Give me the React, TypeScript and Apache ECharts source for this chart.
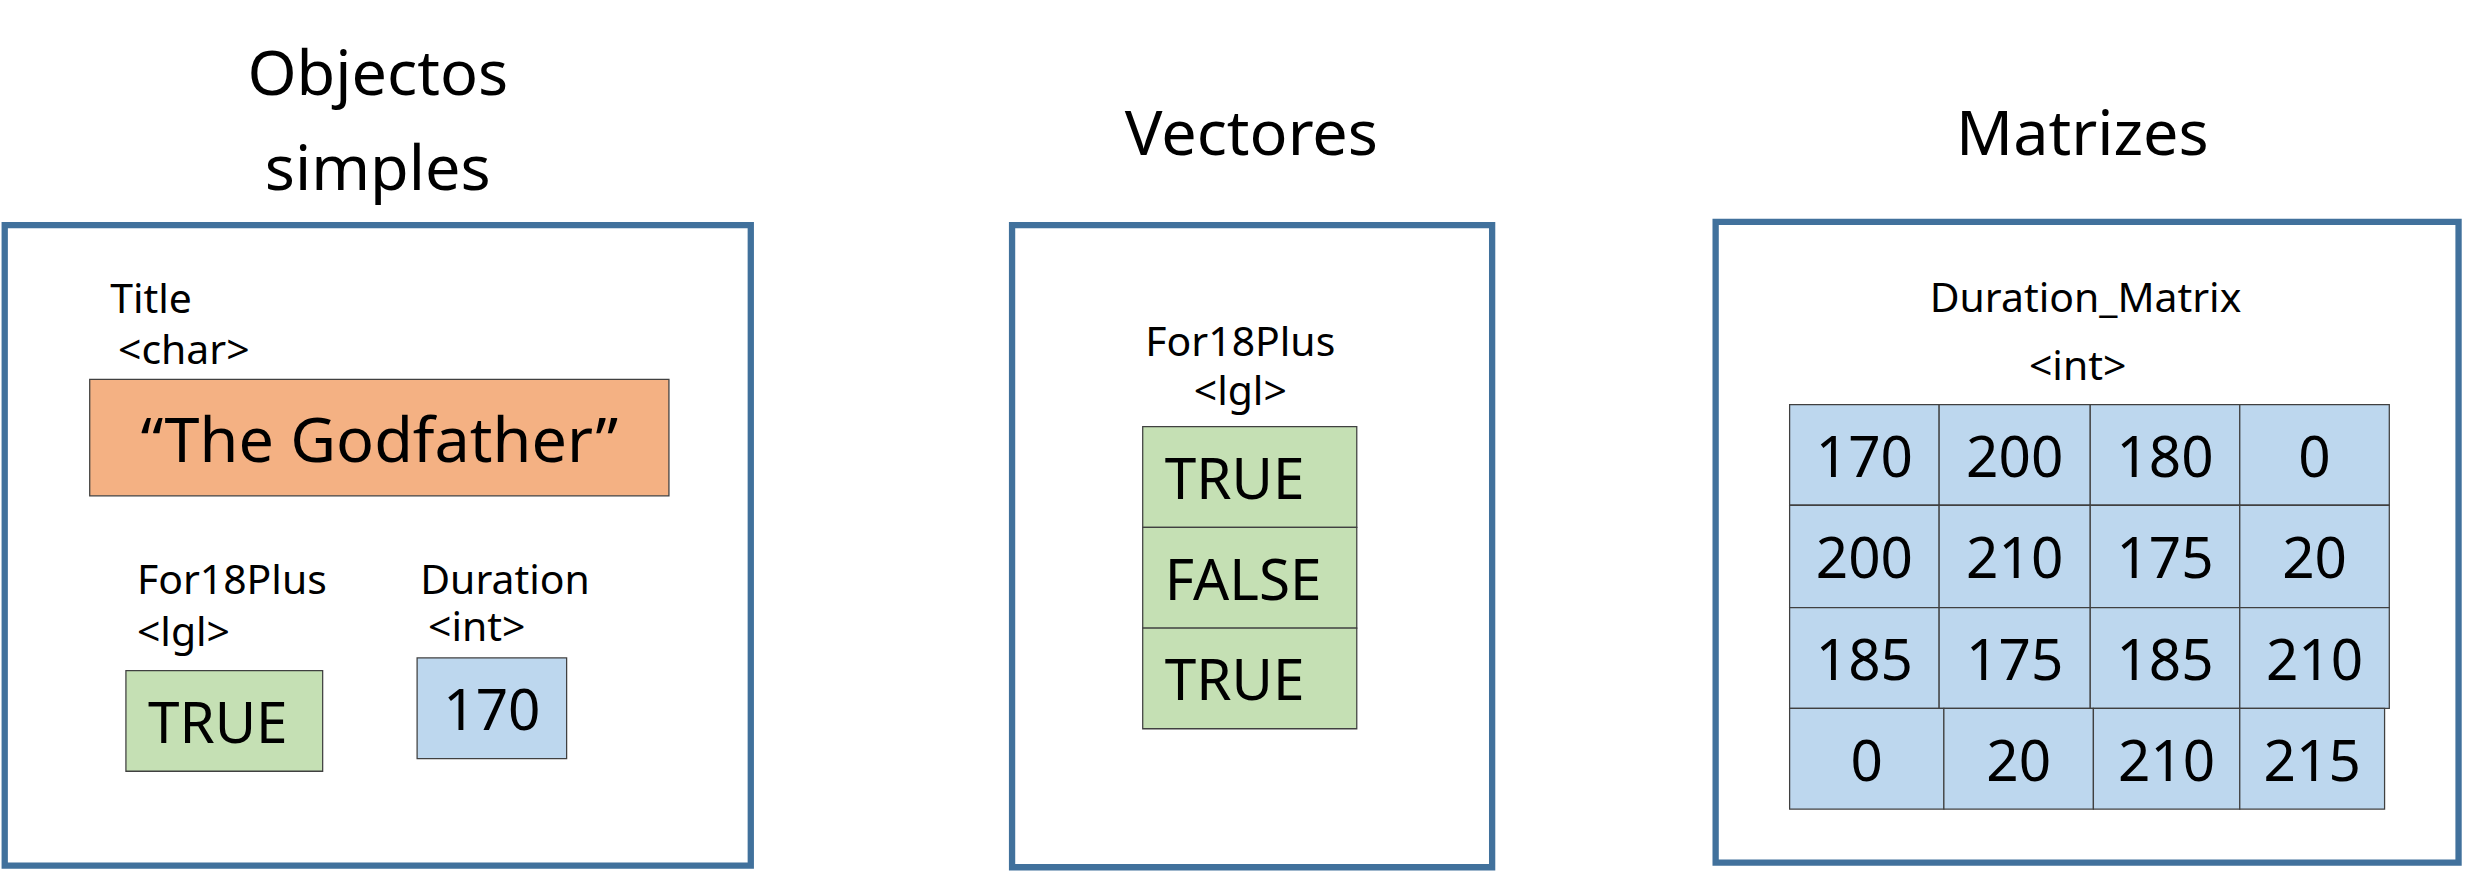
import { useEffect, useRef } from "react";
import * as echarts from "echarts";

const panelTitles = ["Objectos\nsimples", "Vectores", "Matrizes"];
const titleValue = "“The Godfather”";
const scalarLgl = "TRUE";
const scalarInt = "170";
const vectorValues = ["TRUE", "FALSE", "TRUE"];
const matrixValues = [
  ["170", "200", "180", "0"],
  ["200", "210", "175", "20"],
  ["185", "175", "185", "210"],
  ["0", "20", "210", "215"],
];

const S = 2468 / 1568;
const BORDER = "#41719c";
const CELL_STROKE = "#404040";
const ORANGE = "#f4b183";
const GREEN = "#c5e0b4";
const BLUE = "#bdd7ee";
const FONT = "Noto Sans";

const txt = (x: number, y: number, text: string, size: number, align = "left", lh = 1.1) => ({
  type: "text",
  x: x * S,
  y: y * S,
  style: {
    text,
    fontSize: size * S,
    fontFamily: FONT,
    fill: "#000",
    align,
    verticalAlign: "middle",
    lineHeight: size * S * lh,
  },
});

const box = (x1: number, y1: number, x2: number, y2: number, fill: string, stroke: string, lw: number) => ({
  type: "rect",
  shape: { x: x1 * S, y: y1 * S, width: (x2 - x1) * S, height: (y2 - y1) * S },
  style: { fill, stroke, lineWidth: lw * S },
});

const cell = (x1: number, y1: number, x2: number, y2: number, fill: string, text: string, size: number, align = "center", pad = 0) => [
  box(x1, y1, x2, y2, fill, CELL_STROKE, 0.8),
  txt(align === "center" ? (x1 + x2) / 2 : x1 + pad, (y1 + y2) / 2, text, size, align),
];

export default function App() {
  const ref = useRef<HTMLDivElement>(null);

  useEffect(() => {
    document.body.style.margin = "0";
    if (!ref.current) return;
    const chart = echarts.init(ref.current, null, { renderer: "svg" });

    const els: any[] = [];
    // titles
    els.push(txt(240, 75, panelTitles[0], 40, "center", 1.5));
    els.push(txt(795, 83, panelTitles[1], 40, "center"));
    els.push(txt(1323, 83, panelTitles[2], 40, "center"));

    // panel borders
    els.push(box(3, 143, 477, 550, "none", BORDER, 4));
    els.push(box(643, 143, 948, 551, "none", BORDER, 4));
    els.push(box(1090, 141, 1562, 548, "none", BORDER, 4));

    // simple objects
    els.push(txt(70, 189, "Title", 26));
    els.push(txt(75, 221, "<char>", 26));
    els.push(...cell(57, 241, 425, 315, ORANGE, titleValue, 40));
    els.push(txt(87, 367, "For18Plus", 26));
    els.push(txt(87, 400, "<lgl>", 26));
    els.push(...cell(80, 426, 205, 490, GREEN, scalarLgl, 36, "left", 14));
    els.push(txt(267, 367, "Duration", 26));
    els.push(txt(272, 397, "<int>", 26));
    els.push(...cell(265, 418, 360, 482, BLUE, scalarInt, 36));

    // vector
    els.push(txt(788, 216, "For18Plus", 26, "center"));
    els.push(txt(788, 247, "<lgl>", 26, "center"));
    vectorValues.forEach((v, i) => {
      els.push(...cell(726, 271 + i * 64, 862, 335 + i * 64, GREEN, v, 36, "left", 14));
    });

    // matrix
    els.push(txt(1325, 188, "Duration_Matrix", 26, "center"));
    els.push(txt(1320, 231, "<int>", 26, "center"));
    const rowsY = [257, 321, 386, 450, 514];
    const colsX = [1137, 1232, 1328, 1423, 1518];
    const lastColsX = [1137, 1235, 1330, 1423, 1515];
    matrixValues.forEach((row, r) => {
      const cx = r === 3 ? lastColsX : colsX;
      row.forEach((v, c) => {
        els.push(...cell(cx[c], rowsY[r], cx[c + 1], rowsY[r + 1], BLUE, v, 36));
      });
    });

    chart.setOption({ animation: false, graphic: { elements: els } });
    return () => chart.dispose();
  }, []);

  return <div ref={ref} style={{ width: 2468, height: 873, background: "#fff" }} />;
}
